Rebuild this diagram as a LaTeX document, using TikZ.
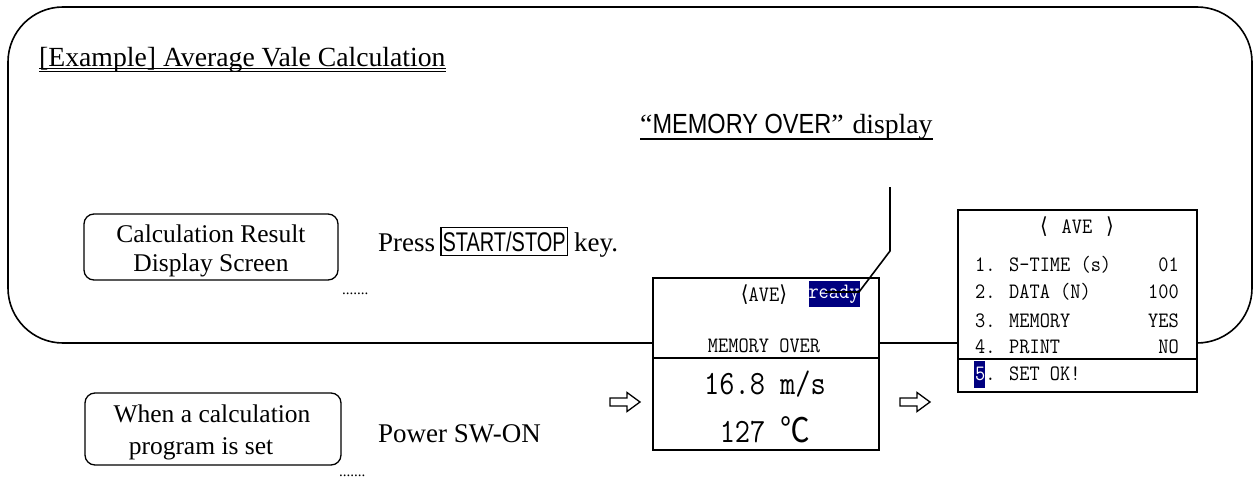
\documentclass[tikz,border=0pt]{standalone}
\usepackage{fontspec}
\setmainfont{Liberation Serif}
\newfontfamily\nsans[FakeStretch=0.74]{Liberation Sans}
\newfontfamily\nsansw[FakeStretch=0.85]{Liberation Sans}
\newfontfamily\cjk{Noto Sans CJK SC}
\newfontfamily\djv{DejaVu Sans}
\definecolor{lcdblue}{RGB}{0,0,128}
\newcommand\lcdt[3]{\scalebox{#2}[1]{\fontsize{#1}{#1}\selectfont\ttfamily #3}}
\begin{document}
\begin{tikzpicture}[x=1pt,y=-1pt,
  frame/.style={line width=1.6pt, rounded corners=55pt},
  lbox/.style={draw, line width=1.3pt, rounded corners=10pt, inner sep=0pt},
  screen/.style={draw, line width=1.9pt, fill=white, inner sep=0pt, anchor=north west},
  divider/.style={line width=1.9pt},
  body/.style={font=\fontsize{27}{30}\selectfont, inner sep=0pt},
  head/.style={font=\fontsize{27.7}{30}\selectfont, inner sep=0pt},
  boxtxt/.style={font=\fontsize{25.5}{30}\selectfont, inner sep=0pt},
  dots/.style={font=\fontsize{15}{15}\selectfont, inner sep=0pt, anchor=base west},
  lcd/.style={inner sep=0pt},
  hl/.style={fill=lcdblue, text=white, inner sep=0pt},
  lead/.style={line width=1.6pt},
  hollow/.style={draw, line width=1.3pt, fill=white, line join=miter},
  harrow/.pic={\draw[hollow] (0,-4) -- (17,-4) -- (17,-9.5) -- (30,0) -- (17,9.5) -- (17,4) -- (0,4) -- cycle;}
]
\useasboundingbox (0,0) rectangle (1253,479);
\fill[white] (0,0) rectangle (1253,479);

% callout frame
\draw[frame] (8,7) rectangle (1252,343);

% title
\node[head, anchor=base west] (title) at (39,66) {[Example] Average Vale Calculation};
\draw[line width=0.9pt] (title.base west |- 0,68.5) -- (title.base east |- 0,68.5);
\draw[line width=0.9pt] (title.base west |- 0,71.5) -- (title.base east |- 0,71.5);

% memory over display label
\node[head, anchor=base west] (memdisp) at (640,133) {“{\nsansw MEMORY OVER}”\hspace{2pt} display};
\draw[line width=1.4pt] (memdisp.base west |- 0,139) -- (memdisp.base east |- 0,139);

% left label boxes
\node[lbox, minimum width=254, minimum height=66] (crd) at (211,247) {};
\node[boxtxt, anchor=base] (crd1) at (211,242) {Calculation Result};
\node[boxtxt, anchor=base] (crd2) at (211,271) {Display Screen};
\node[body, anchor=base west] (press) at (378,251) {Press};
\node[draw, line width=1.2pt, inner xsep=1.5pt, inner ysep=4pt, anchor=base west, font=\fontsize{27}{30}\selectfont\nsans] (ss) at ([xshift=5pt]press.base east) {START/STOP};
\node[body, anchor=base west] (key) at ([xshift=6pt]ss.base east) {key.};
\node[dots] (dots1) at (342,294) {.......};

\node[lbox, minimum width=256, minimum height=72] (wcp) at (213,429) {};
\node[boxtxt, anchor=base] (wcp1) at (212,422) {When a calculation};
\node[boxtxt, anchor=base] (wcp2) at (201,454) {program is set};
\node[body, anchor=base west] (pwr) at (378,442) {Power SW-ON};
\node[dots] (dots2) at (339,476) {.......};

% arrows
\pic (arr1) at (610,402) {harrow};
\pic (arr2) at (900,402) {harrow};

% middle screen
\node[screen, minimum width=226, minimum height=172] (scr1) at (652,277) {};
\draw[divider] (scr1.west |- 0,358) -- (scr1.east |- 0,358);
\node[lcd, anchor=base] (ave1) at (764,301) {\lcdt{22}{0.9}{{\djv ⟨}AVE{\djv ⟩}}};
\node[hl, minimum width=50, minimum height=26] (ready) at (834,294) {\lcdt{22}{0.9}{ready}};
\node[lcd, anchor=base] (mo) at (764,352) {\lcdt{22}{0.9}{MEMORY OVER}};
\node[lcd, anchor=base] (spd) at (765,394) {\lcdt{34}{0.87}{16.8 m/s}};
\node[lcd, anchor=base] (tmp) at (765,442) {\lcdt{34}{0.87}{127 {\cjk ℃}}};

% leader line
\coordinate (ldtop) at (890,187);
\coordinate (ldbend) at (890,251);
\coordinate (ldknee) at (859,292);
\coordinate (ldend) at (825,292);
\draw[lead] (ldtop) -- (ldbend) -- (ldknee) -- (ldend);

% right screen
\node[screen, minimum width=239, minimum height=182] (scr2) at (957,209) {};
\draw[divider] (scr2.west |- 0,359) -- (scr2.east |- 0,359);
\node[lcd, anchor=base] (ave2) at (1077,233) {\lcdt{22}{0.9}{{\djv ⟨}\hspace{4pt} AVE \hspace{4pt}{\djv ⟩}}};
\node[lcd, anchor=base west] (r1) at (975,271) {\lcdt{22}{0.9}{1. S-TIME (s)}};
\node[lcd, anchor=base west] (r2) at (975,298) {\lcdt{22}{0.9}{2. DATA (N)}};
\node[lcd, anchor=base west] (r3) at (975,327) {\lcdt{22}{0.9}{3. MEMORY}};
\node[lcd, anchor=base west] (r4) at (975,353) {\lcdt{22}{0.9}{4. PRINT}};
\node[hl, minimum width=11, minimum height=27, anchor=north west] (r5hl) at (974,361) {};
\node[lcd, anchor=base west] (r5) at (975,380) {\lcdt{22}{0.9}{\textcolor{white}{5}. SET OK!}};
\node[lcd, anchor=base east] (v1) at (1179,271) {\lcdt{22}{0.9}{01}};
\node[lcd, anchor=base east] (v2) at (1179,298) {\lcdt{22}{0.9}{100}};
\node[lcd, anchor=base east] (v3) at (1179,327) {\lcdt{22}{0.9}{YES}};
\node[lcd, anchor=base east] (v4) at (1179,353) {\lcdt{22}{0.9}{NO}};
\end{tikzpicture}
\end{document}
